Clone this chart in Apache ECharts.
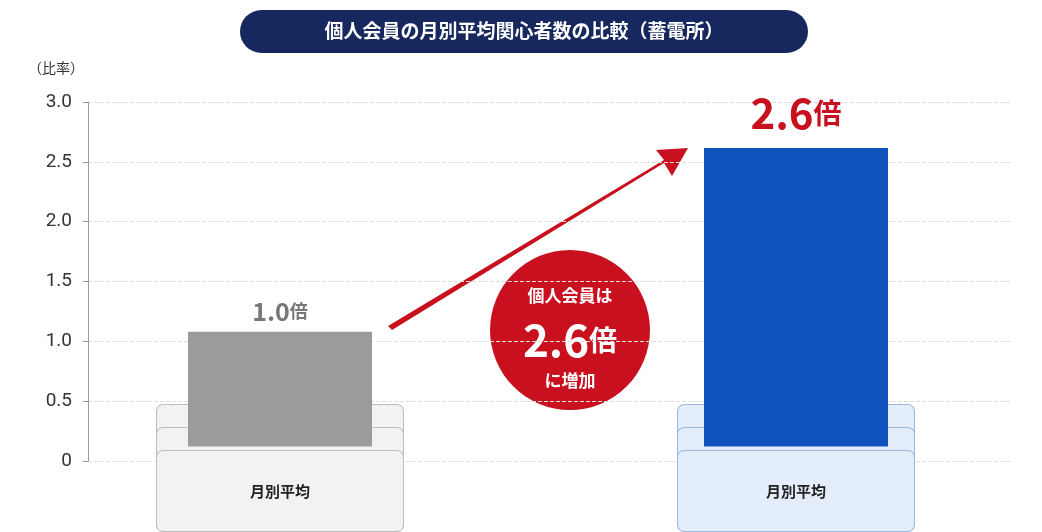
<!DOCTYPE html><html><head><meta charset="utf-8">
<script src="https://cdn.jsdelivr.net/npm/echarts@6/dist/echarts.min.js"></script>
<style>html,body{margin:0;padding:0;background:#fff}#c{width:1042px;height:532px}</style></head><body><div id="c"></div>
<script>
const categories = ['制度変更前\n（1月〜3月）\n月別平均', '', '制度変更後\n（4月〜5月）\n月別平均'];
const values = [1.0, null, 2.6];
const yTicks = [0, 0.5, 1.0, 1.5, 2.0, 2.5, 3.0];
const F = '"Noto Sans CJK JP","Noto Sans",sans-serif';
const chart = echarts.init(document.getElementById('c'));
chart.setOption({
  animation:false,
  grid:[{left:88,right:32,top:102,bottom:71},{left:151,width:774,top:102,bottom:71}],
  xAxis:[
    {gridIndex:0,type:'value',min:0,max:1,show:false},
    {gridIndex:1,type:'category',data:categories,axisLine:{show:false},axisTick:{show:false},
     axisLabel:{margin:-13,interval:0,formatter:(v,i)=>v?('{'+(i===0?'a':'b')+'|'+v+'}'):'',
       rich:{
        a:{backgroundColor:'#f2f2f2',borderColor:'#bdbdbd',borderWidth:1,borderRadius:6,width:246,height:80,align:'center',fontSize:15,fontWeight:'bold',color:'#222',lineHeight:23,fontFamily:F},
        b:{backgroundColor:'#e4eefb',borderColor:'#9cb8e0',borderWidth:1,borderRadius:6,width:236,height:80,align:'center',fontSize:15,fontWeight:'bold',color:'#222',lineHeight:23,fontFamily:F}}}}
  ],
  yAxis:[
    {gridIndex:0,type:'value',min:0,max:3,interval:0.5,
     axisLine:{show:true,lineStyle:{color:'#999'}},axisTick:{show:true,length:5,lineStyle:{color:'#999'}},
     axisLabel:{color:'#333',fontSize:19,margin:16,fontFamily:'Roboto,sans-serif',formatter:v=>v===0?'0':v.toFixed(1)},
     splitLine:{lineStyle:{type:'dashed',color:'#ddd'}}},
    {gridIndex:1,type:'value',min:0,max:3,show:false}
  ],
  series:[{type:'bar',xAxisIndex:1,yAxisIndex:1,barWidth:184,
    data:values.map((v,i)=>({value:v,itemStyle:{color:i===0?'#9b9b9b':'#0f52bd'},
      label:{show:true,position:'top',distance:i===0?8:14,
        formatter:'{n|'+(v==null?'':v.toFixed(1))+'}{u|倍}',
        rich:i===0?{n:{fontSize:25,fontWeight:'bold',color:'#777',fontFamily:F},u:{fontSize:18,fontWeight:'bold',color:'#777',fontFamily:F}}
                 :{n:{fontSize:42,fontWeight:'bold',color:'#c8101e',fontFamily:F},u:{fontSize:28,fontWeight:'bold',color:'#c8101e',fontFamily:F}}}}))}],
  graphic:[
    {type:'rect',shape:{x:240,y:10,width:568,height:43,r:22},style:{fill:'#16285e'}},
    {type:'text',x:524,y:31,style:{text:'個人会員の月別平均関心者数の比較（蓄電所）',fill:'#fff',font:'bold 19px '+F,align:'center',verticalAlign:'middle'}},
    {type:'text',x:28,y:68,style:{text:'（比率）',fill:'#333',font:'14px '+F,verticalAlign:'middle'}},
    {type:'polygon',shape:{points:[[388,326],[392,330],[664,163],[672,176],[688,148],[656,150],[664,160]]},style:{fill:'#c8101e'}},
    {type:'circle',shape:{cx:570,cy:330,r:80},style:{fill:'#c8101e'}},
    {type:'text',x:570,y:296,style:{text:'個人会員は',fill:'#fff',font:'bold 17px '+F,align:'center',verticalAlign:'middle'}},
    {type:'text',x:570,y:340,style:{text:'{n|2.6}{u|倍}',rich:{n:{fontSize:44,fontWeight:'bold',fill:'#fff',fontFamily:F},u:{fontSize:28,fontWeight:'bold',fill:'#fff',fontFamily:F}},align:'center',verticalAlign:'middle'}},
    {type:'text',x:570,y:381,style:{text:'に増加',fill:'#fff',font:'bold 17px '+F,align:'center',verticalAlign:'middle'}}
  ]
});
</script></body></html>
